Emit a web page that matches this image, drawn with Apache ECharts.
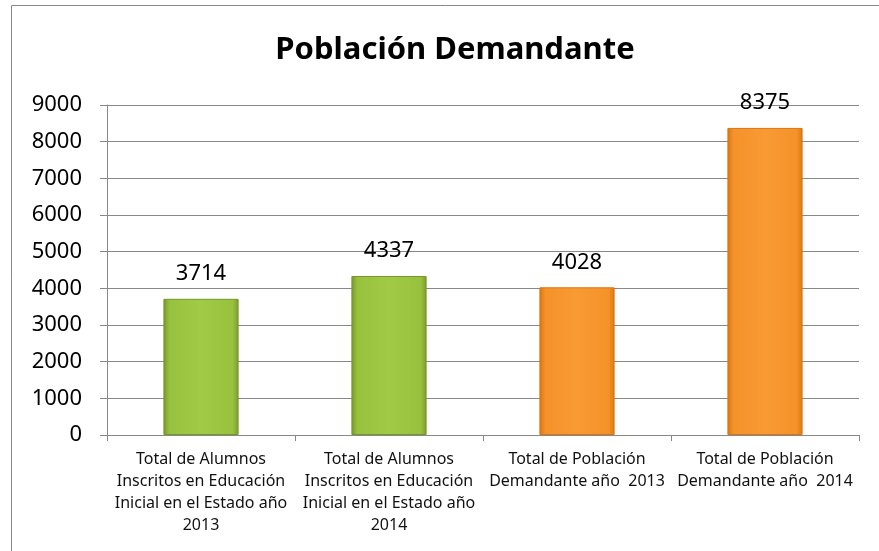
<!DOCTYPE html>
<html>
<head>
<meta charset="utf-8">
<script src="https://cdn.jsdelivr.net/npm/echarts@6/dist/echarts.min.js"></script>
<style>
html,body{margin:0;padding:0;background:#fff;}
#chart{width:879px;height:551px;}
</style>
</head>
<body>
<div id="chart"></div>
<script>
const titleText = 'Población Demandante';
const categories = [
  'Total de Alumnos\nInscritos en Educación\nInicial en el Estado año\n2013',
  'Total de Alumnos\nInscritos en Educación\nInicial en el Estado año\n2014',
  'Total de Población\nDemandante año  2013',
  'Total de Población\nDemandante año  2014'
];
const values = [3714, 4337, 4028, 8375];
const barKinds = ['green', 'green', 'orange', 'orange'];
const yMin = 0, yMax = 9000, yStep = 1000;

const palettes = {
  green: ['#76962a', '#98c23e', '#a1ca46', '#7b9c2c'],
  orange: ['#d9750f', '#f5922a', '#f99a33', '#dc7810']
};
function grad(kind) {
  const c = palettes[kind];
  return new echarts.graphic.LinearGradient(0, 0, 1, 0, [
    {offset: 0, color: c[0]},
    {offset: 0.08, color: c[1]},
    {offset: 0.5, color: c[2]},
    {offset: 0.92, color: c[1]},
    {offset: 1, color: c[3]}
  ]);
}

const chart = echarts.init(document.getElementById('chart'));
chart.setOption({
  backgroundColor: '#fff',
  animation: false,
  graphic: [{
    type: 'rect',
    shape: {x: 11.5, y: 5.5, width: 900, height: 600},
    style: {fill: 'none', stroke: '#888', lineWidth: 1},
    silent: true,
    z: -1
  }],
  title: {
    text: titleText,
    left: 450,
    textAlign: 'center',
    top: 30,
    textStyle: {fontFamily: 'Noto Sans', fontWeight: 'bold', fontSize: 31, color: '#000'}
  },
  grid: {left: 107, right: 20, top: 105, bottom: 116, containLabel: false},
  xAxis: {
    type: 'category',
    data: categories,
    axisLine: {lineStyle: {color: '#888', width: 1}},
    axisTick: {show: true, length: 6, alignWithLabel: false, lineStyle: {color: '#888'}},
    axisLabel: {
      interval: 0,
      margin: 13,
      fontFamily: 'Noto Sans',
      fontSize: 16,
      lineHeight: 22,
      color: '#111',
      align: 'center'
    }
  },
  yAxis: {
    type: 'value',
    min: yMin, max: yMax, interval: yStep,
    axisLine: {show: true, lineStyle: {color: '#888', width: 1}},
    axisTick: {show: true, length: 7, lineStyle: {color: '#888'}},
    splitLine: {lineStyle: {color: '#888', width: 1}},
    axisLabel: {fontFamily: 'Noto Sans', fontSize: 22, color: '#000', margin: 25, formatter: v => String(v)}
  },
  series: [{
    type: 'bar',
    barWidth: '40%',
    data: values.map((v, i) => ({
      value: v,
      itemStyle: {color: grad(barKinds[i]), borderColor: palettes[barKinds[i]][0], borderWidth: 1}
    })),
    label: {
      show: true,
      position: 'top',
      distance: 14,
      fontFamily: 'Noto Sans',
      fontSize: 22,
      color: '#000'
    }
  }]
});
</script>
</body>
</html>
